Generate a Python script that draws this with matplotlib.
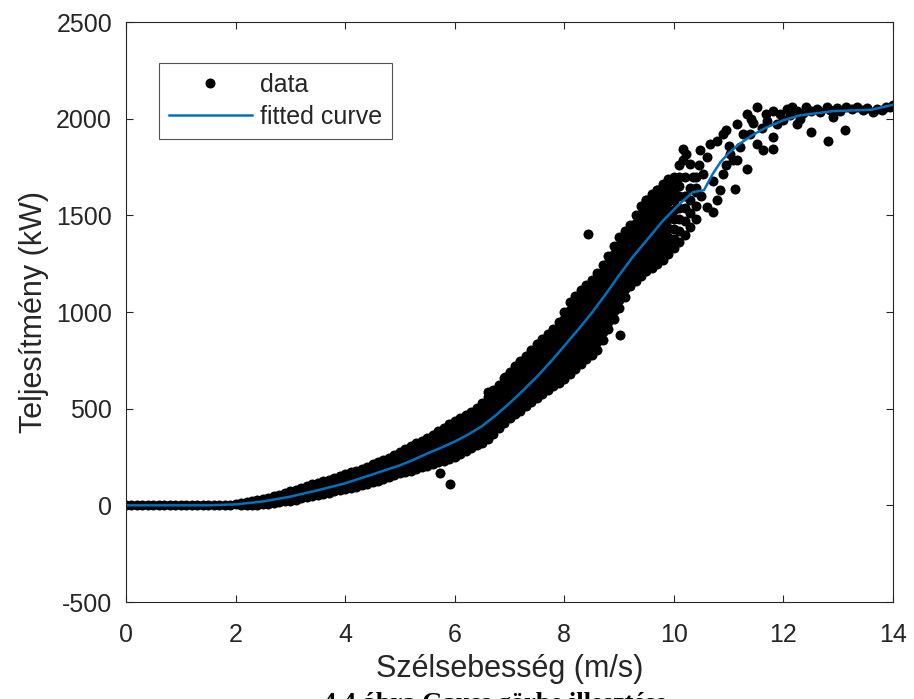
import matplotlib
matplotlib.use("Agg")
import matplotlib.pyplot as plt

# ---------------- data ----------------
# flat section (no production) 0-2 m/s
flat_x = [0.0, 0.1, 0.2, 0.3, 0.4, 0.5, 0.6, 0.7, 0.8, 0.9, 1.0,
          1.1, 1.2, 1.3, 1.4, 1.5, 1.6, 1.7, 1.8, 1.9, 2.0]
flat_y = [0, 0, 0, 0, 0, 0, 0, 0, 0, 0, 0,
          0, 0, 0, 0, 0, 0, 0, 2, 4, 6]

# dense band of measurements: wind speed column -> power values (kW)
band_x = [2.1, 2.2, 2.3, 2.4, 2.5, 2.6, 2.7, 2.8, 2.9, 3.0,
          3.1, 3.2, 3.3, 3.4, 3.5, 3.6, 3.7, 3.8, 3.9, 4.0,
          4.1, 4.2, 4.3, 4.4, 4.5, 4.6, 4.7, 4.8, 4.9, 5.0,
          5.1, 5.2, 5.3, 5.4, 5.5, 5.6, 5.7, 5.8, 5.9, 6.0,
          6.1, 6.2, 6.3, 6.4, 6.5, 6.6, 6.7, 6.8, 6.9, 7.0,
          7.1, 7.2, 7.3, 7.4, 7.5, 7.6, 7.7, 7.8, 7.9, 8.0,
          8.1, 8.2, 8.3, 8.4, 8.5, 8.6, 8.7, 8.8, 8.9, 9.0,
          9.1, 9.2, 9.3, 9.4, 9.5, 9.6, 9.7, 9.8, 9.9, 10.0,
          10.1, 10.2, 10.3, 10.4]
band_y = [
    [0, 10], [0, 9, 18], [2, 13, 24], [4, 17, 30], [6, 20, 35],
    [8, 24, 40], [12, 30, 48], [16, 36, 56], [20, 42, 64], [25, 48, 72],
    [30, 55, 80], [36, 64, 92], [42, 71, 100], [48, 78, 108], [54, 85, 116],
    [60, 92, 124], [66, 99, 132], [72, 107, 142], [78, 115, 152], [84, 110, 136, 162],
    [88, 115, 142, 170], [96, 124, 152, 180], [104, 132, 161, 190], [112, 141, 170, 200],
    [120, 150, 181, 212], [128, 159, 190, 222], [136, 169, 201, 234], [146, 179, 212, 246],
    [156, 191, 226, 260], [166, 202, 238, 274],
    [172, 211, 250, 290], [180, 222, 263, 305], [188, 232, 276, 320],
    [196, 231, 266, 300, 335], [205, 241, 277, 314, 350], [214, 252, 290, 328, 365],
    [222, 262, 302, 342, 382], [230, 272, 315, 358, 400], [238, 283, 329, 375, 420],
    [252, 298, 344, 390, 436],
    [266, 303, 340, 378, 415, 452], [280, 318, 355, 392, 430, 468],
    [294, 332, 370, 408, 446, 485], [310, 349, 388, 427, 466, 505],
    [325, 366, 407, 448, 489, 530], [345, 381, 417, 453, 489, 524, 560],
    [370, 408, 445, 482, 520, 558, 595], [400, 438, 475, 512, 550, 588, 625],
    [425, 464, 503, 542, 582, 621, 660], [450, 490, 530, 570, 610, 650, 690],
    [470, 512, 553, 595, 637, 678, 720], [490, 532, 575, 618, 660, 702, 745],
    [515, 552, 589, 626, 664, 701, 738, 775], [535, 574, 612, 650, 690, 728, 766, 805],
    [555, 595, 635, 675, 715, 755, 795, 835], [575, 616, 656, 697, 738, 778, 819, 860],
    [595, 636, 678, 719, 761, 802, 844, 885], [615, 652, 689, 726, 762, 799, 836, 873, 910],
    [635, 674, 714, 753, 792, 832, 871, 910, 950],
    [655, 693, 731, 770, 808, 847, 885, 923, 962, 1000],
    [680, 721, 762, 803, 844, 886, 927, 968, 1009, 1050],
    [705, 747, 789, 832, 874, 916, 958, 1000, 1043, 1085],
    [730, 773, 816, 858, 901, 944, 987, 1030, 1072, 1115],
    [755, 794, 832, 871, 909, 948, 986, 1025, 1063, 1102, 1140],
    [780, 818, 857, 895, 934, 972, 1011, 1050, 1088, 1126, 1165],
    [805, 845, 884, 924, 963, 1002, 1042, 1082, 1121, 1160, 1200],
    [855, 894, 933, 972, 1011, 1050, 1089, 1128, 1167, 1206, 1245],
    [910, 948, 986, 1024, 1062, 1100, 1138, 1176, 1214, 1252, 1290],
    [965, 1003, 1040, 1078, 1115, 1152, 1190, 1228, 1265, 1302, 1340],
    [1020, 1061, 1102, 1143, 1184, 1226, 1267, 1308, 1349, 1390],
    [1080, 1118, 1156, 1194, 1232, 1268, 1306, 1344, 1382, 1420],
    [1135, 1170, 1205, 1240, 1275, 1310, 1345, 1380, 1415, 1450],
    [1160, 1198, 1236, 1273, 1311, 1349, 1387, 1424, 1462, 1500],
    [1185, 1225, 1266, 1306, 1346, 1386, 1427, 1468, 1508, 1550],
    [1210, 1251, 1292, 1333, 1374, 1416, 1457, 1498, 1539, 1580],
    [1230, 1272, 1314, 1356, 1398, 1442, 1484, 1526, 1568, 1610],
    [1250, 1292, 1334, 1376, 1418, 1462, 1504, 1546, 1588, 1630],
    [1270, 1312, 1354, 1395, 1437, 1478, 1520, 1562, 1603, 1645],
    [1300, 1345, 1390, 1435, 1480, 1525, 1570, 1615, 1660],
    [1330, 1380, 1430, 1480, 1530, 1580, 1630, 1680],
    [1360, 1420, 1480, 1540, 1600, 1650, 1700],
    [1400, 1470, 1540, 1600, 1700], [1440, 1510, 1580, 1640], [1480, 1550, 1620, 1700]]

# individual / sparse measurements (outliers and upper region)
sparse_x = [5.73, 5.91, 6.92, 6.61, 8.44, 9.02,
            9.50, 9.69, 9.81, 9.56, 9.99, 10.05, 10.23, 10.29, 10.48, 10.54, 10.66, 10.78,
            10.72, 10.84, 10.90, 10.78, 10.60, 11.12, 11.33, 11.15, 10.96, 11.15, 11.33, 11.51,
            11.69, 11.81, 11.88, 11.39, 11.51, 11.63, 11.81, 11.81, 11.21, 11.02, 10.90, 11.27,
            12.06, 12.24, 12.42, 12.61, 12.79, 12.97, 13.15, 13.34, 13.52, 13.70, 13.88, 14.0,
            12.12, 12.30, 12.24, 12.51, 12.82, 13.12, 12.91, 12.0, 11.94, 12.67, 13.03, 13.64,
            10.72, 11.08, 10.17, 10.17, 10.0, 10.1, 9.9, 10.35, 10.45, 10.6, 10.4, 10.5,
            10.95, 11.0, 11.45, 11.6, 11.7, 11.4, 12.15, 12.5, 12.35, 12.85, 13.25, 13.45,
            13.8, 13.95]
sparse_y = [167, 108, 664, 586, 1405, 879,
            1577, 1629, 1663, 1525, 1612, 1542, 1818, 1767, 1836, 1715, 1870, 1887,
            1680, 1629, 1715, 1577, 1542, 1637, 1741, 1784, 1939, 1974, 2025, 2059,
            2025, 2042, 1974, 1922, 1870, 1836, 1844, 1904, 1853, 1818, 1922, 1922,
            2051, 2042, 2059, 2051, 2059, 2056, 2059, 2059, 2056, 2051, 2059, 2073,
            2017, 2000, 1974, 1930, 1887, 1939, 2008, 1991, 2025, 2034, 2042, 2034,
            1516, 1784, 1845, 1785, 1700, 1760, 1690, 1700, 1760, 1800, 1640, 1600,
            1760, 1860, 1980, 1950, 1990, 2000, 2060, 2040, 2030, 2045, 2050, 2045,
            2045, 2062]

# fitted Gauss curve
curve_x = [0, 1.0, 1.5, 2.0, 2.5, 3.0, 3.5, 4.0, 4.5, 5.0, 5.25, 5.5, 5.75, 6.0,
           6.25, 6.5, 6.75, 7.0, 7.25, 7.5, 7.75, 8.0, 8.25, 8.5, 8.75, 9.0, 9.25,
           9.5, 9.8, 10.1, 10.35, 10.55, 10.7, 10.85, 11.0, 11.2, 11.45, 11.7, 12.0,
           12.3, 12.9, 13.6, 14.0]
curve_y = [0, 0, 0, 5, 20, 45, 78, 114, 160, 207, 236, 268, 298, 330,
           367, 410, 466, 528, 595, 665, 742, 825, 908, 995, 1090, 1190, 1285,
           1370, 1472, 1558, 1620, 1630, 1710, 1775, 1822, 1870, 1918, 1956, 1992,
           2017, 2039, 2046, 2072]

x_ticks = [0, 2, 4, 6, 8, 10, 12, 14]
y_ticks = [-500, 0, 500, 1000, 1500, 2000, 2500]

# ---------------- plot ----------------
data_x = list(flat_x)
data_y = list(flat_y)
for xv, ys in zip(band_x, band_y):
    for yv in ys:
        data_x.append(xv)
        data_y.append(yv)
data_x += sparse_x
data_y += sparse_y

plt.rcParams['font.family'] = ['Liberation Sans', 'DejaVu Sans']
plt.rcParams['axes.unicode_minus'] = False
grey = '#262626'

fig = plt.figure(figsize=(9.14, 6.99), dpi=100)
ax = fig.add_axes([126 / 914, 1 - 602 / 699, 767 / 914, 580 / 699])

ax.plot(data_x, data_y, linestyle='none', marker='o', markersize=7.2,
        markeredgewidth=0, color='black', label='data')
ax.plot(curve_x, curve_y, color='#0072BD', linewidth=1.8, label='fitted curve')

ax.set_xlim(0, 14)
ax.set_ylim(-500, 2500)
ax.set_xticks(x_ticks)
ax.set_yticks(y_ticks)
ax.tick_params(direction='in', length=5, width=0.8, colors=grey, labelsize=18,
               top=True, right=True)
ax.tick_params(axis='y', pad=10)
ax.tick_params(axis='x', pad=15)
for sp in ax.spines.values():
    sp.set_color(grey)
    sp.set_linewidth(0.8)

ax.set_xlabel('Szélsebesség (m/s)', fontsize=22, color=grey)
ax.set_ylabel('Teljesítmény (kW)', fontsize=22, color=grey)
ax.xaxis.set_label_coords(0.5, -0.09)
ax.yaxis.set_label_coords(-0.1, 0.5)

leg = ax.legend(loc='upper left', bbox_to_anchor=(33 / 767, 1 - 41 / 580),
                fontsize=18, frameon=True, fancybox=False, edgecolor=grey,
                handlelength=3.3, borderpad=0.4, labelspacing=0.3, handletextpad=0.35,
                borderaxespad=0)
leg.get_frame().set_linewidth(0.8)
for t in leg.get_texts():
    t.set_color(grey)

fig.text(495 / 914, -0.016, '4.4 ábra Gauss görbe illesztése', ha='center', va='baseline',
         fontsize=19, fontweight='bold', family=['Liberation Serif', 'DejaVu Serif'], color='black')

fig.savefig('out.png', dpi=100)
